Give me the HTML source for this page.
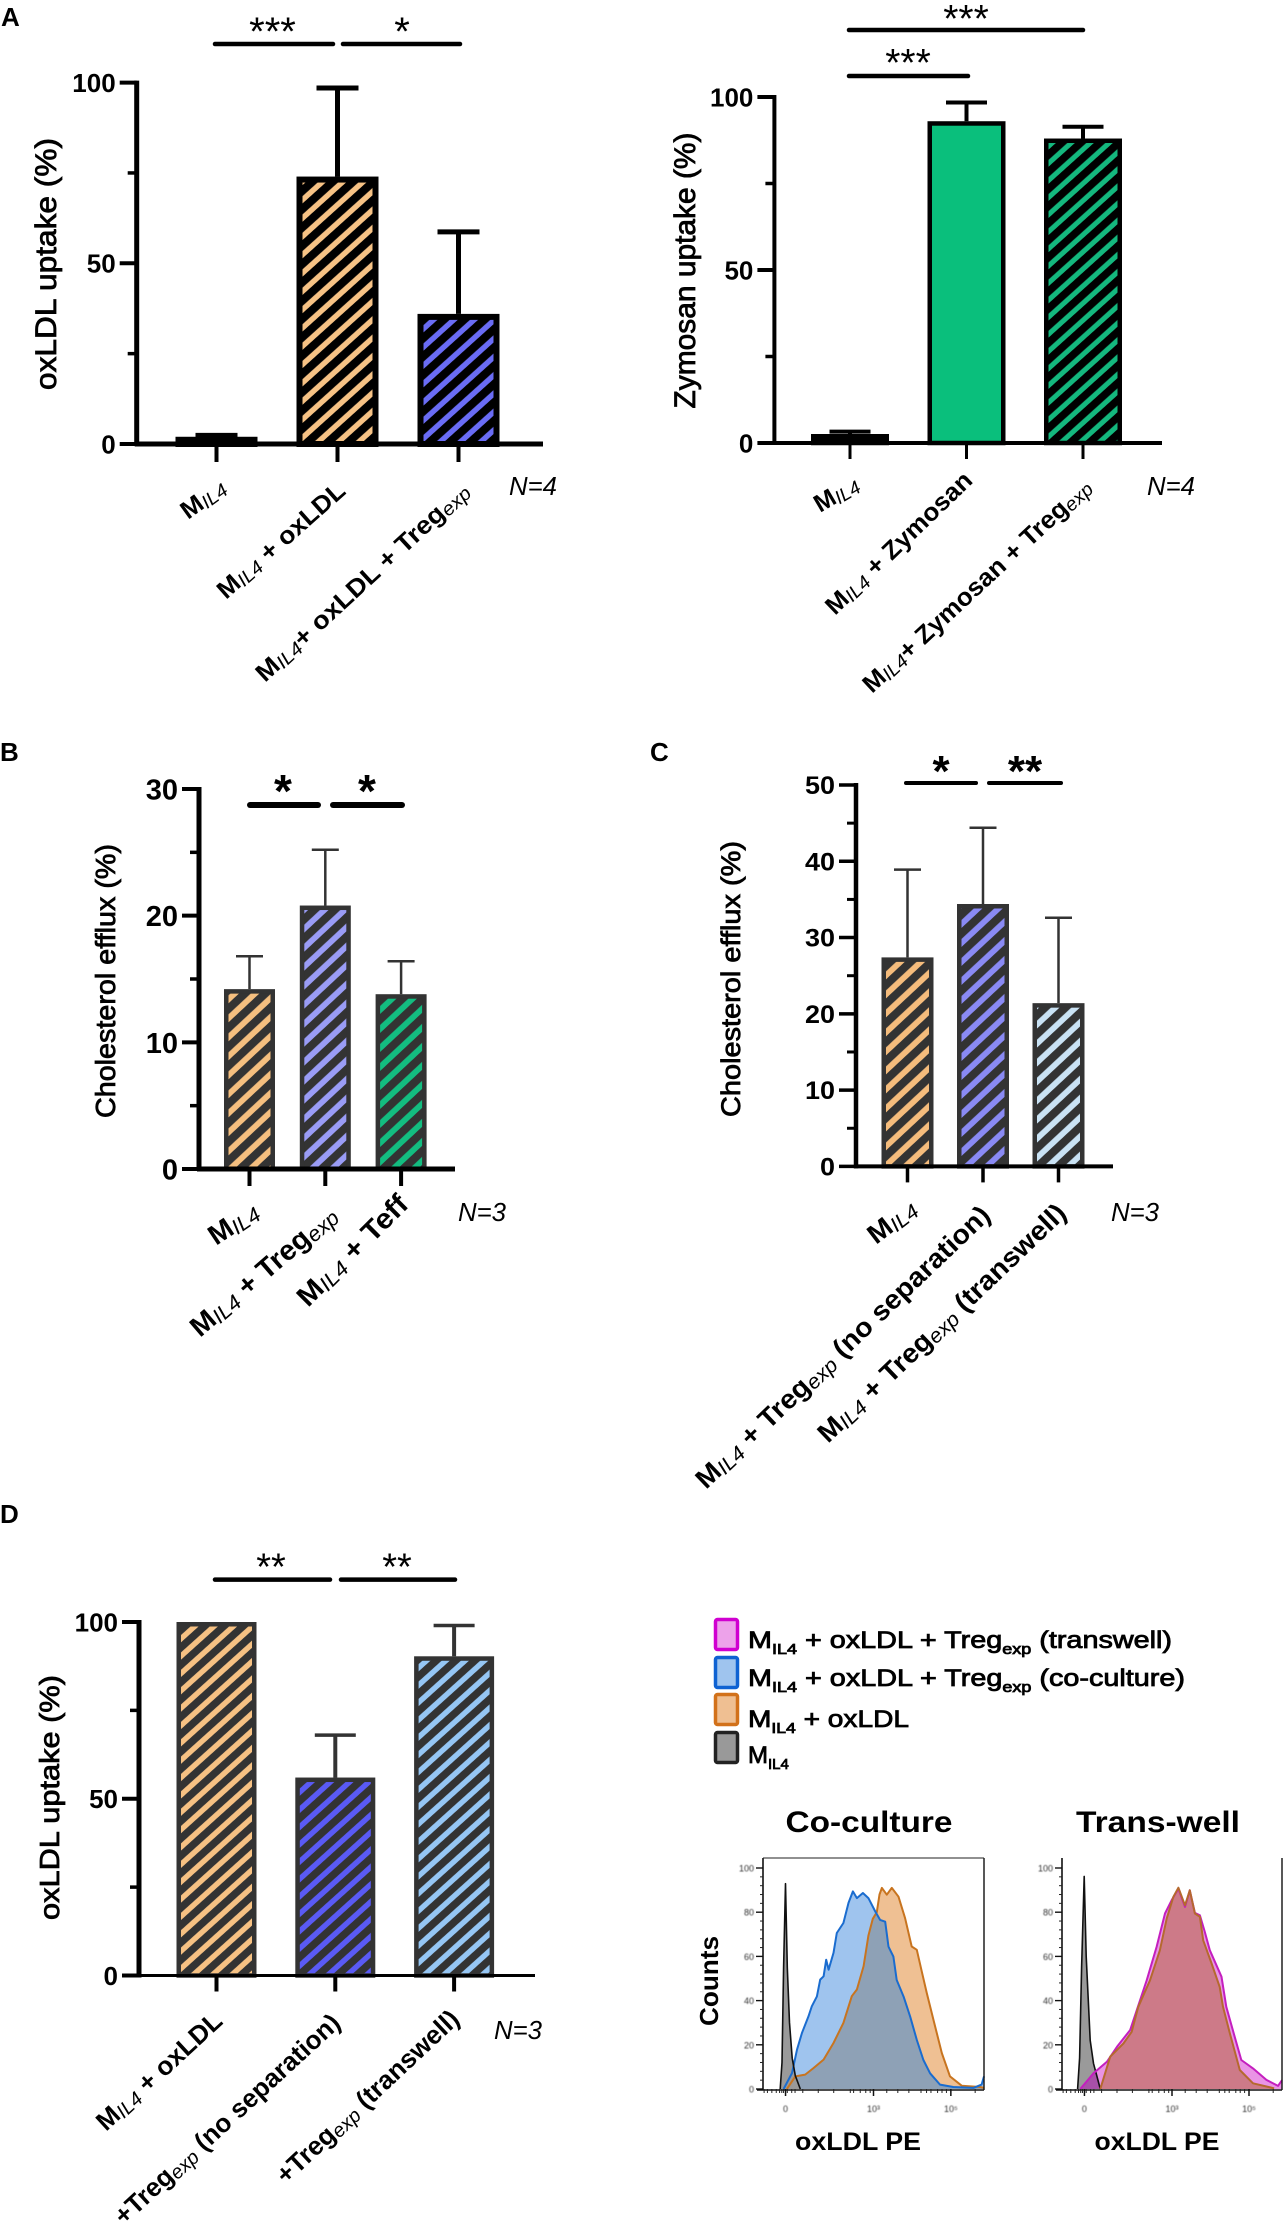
<!DOCTYPE html>
<html lang="en">
<head>
<meta charset="utf-8">
<title>oxLDL and zymosan uptake and cholesterol efflux</title>
<style>
html,body{margin:0;padding:0;background:#fff;}
body{width:1283px;height:2226px;overflow:hidden;}
svg{display:block;font-family:"Liberation Sans",Arial,sans-serif;}
</style>
</head>
<body>
<svg id="fig" xmlns="http://www.w3.org/2000/svg" width="1283" height="2226" viewBox="0 0 1283 2226">
  <defs>
    <filter id="soft" x="-10%" y="-10%" width="120%" height="120%"><feGaussianBlur stdDeviation="0.45"/></filter>
  </defs>
  <rect x="0" y="0" width="1283" height="2226" fill="#fff"/>
  <text x="1" y="26" font-size="26" font-weight="700">A</text>
  <text x="0" y="761" font-size="26" font-weight="700">B</text>
  <text x="650" y="761" font-size="26" font-weight="700">C</text>
  <text x="0" y="1523" font-size="26" font-weight="700">D</text>

  <g>
    <rect x="715.5" y="1619.5" width="22" height="30" rx="2" fill="#eda2ea" stroke="#d000d0" stroke-width="3.5"/>
    <rect x="715.5" y="1657.5" width="22" height="30" rx="2" fill="#9fc4ee" stroke="#0f62d2" stroke-width="3.5"/>
    <rect x="715.5" y="1694.5" width="22" height="30" rx="2" fill="#efbf92" stroke="#d2711a" stroke-width="3.5"/>
    <rect x="715.5" y="1732.5" width="22" height="30" rx="2" fill="#999" stroke="#222" stroke-width="3.5"/>
    <text x="748" y="1648" font-size="24" stroke="#000" stroke-width="0.8" textLength="424" lengthAdjust="spacingAndGlyphs">M<tspan font-size="15" dy="6">IL4</tspan><tspan dy="-6"> + oxLDL + Treg</tspan><tspan font-size="15" dy="6">exp</tspan><tspan dy="-6">  (transwell)</tspan></text>
    <text x="748" y="1686" font-size="24" stroke="#000" stroke-width="0.8" textLength="437" lengthAdjust="spacingAndGlyphs">M<tspan font-size="15" dy="6">IL4</tspan><tspan dy="-6"> + oxLDL + Treg</tspan><tspan font-size="15" dy="6">exp</tspan><tspan dy="-6">  (co-culture)</tspan></text>
    <text x="748" y="1727" font-size="24" stroke="#000" stroke-width="0.8" textLength="161" lengthAdjust="spacingAndGlyphs">M<tspan font-size="15" dy="6">IL4</tspan><tspan dy="-6"> + oxLDL</tspan></text>
    <text x="748" y="1763" font-size="24" stroke="#000" stroke-width="0.8">M<tspan font-size="15" dy="6">IL4</tspan></text>
  </g>
</svg>

<script>
/* ---------- Panel A, oxLDL uptake ---------- */
const oxCategories = ["M_IL4", "M_IL4 + oxLDL", "M_IL4+ oxLDL + Treg^exp"];
const oxValues = [2, 74, 36];
const oxErrorTops = [2.4, 98.5, 58.7];
const oxTicks = [0, 50, 100];
const oxMinorTicks = [25, 75];
const oxSig = [["***", 0, 1], ["*", 1, 2]];

/* ---------- Panel A, zymosan uptake ---------- */
const zyCategories = ["M_IL4", "M_IL4 + Zymosan", "M_IL4+ Zymosan + Treg^exp"];
const zyValues = [2.6, 93, 88];
const zyErrorTops = [3.3, 98.4, 91.4];
const zyTicks = [0, 50, 100];
const zyMinorTicks = [25, 75];
const zySig = [["***", 0, 2], ["***", 0, 1]];

/* ---------- Panel B, cholesterol efflux ---------- */
const cbCategories = ["M_IL4", "M_IL4 + Treg^exp", "M_IL4 + Teff"];
const cbValues = [14.2, 20.8, 13.8];
const cbErrorTops = [16.8, 25.2, 16.4];
const cbTicks = [0, 10, 20, 30];
const cbMinorTicks = [5, 15, 25];
const cbSig = [["*", 0, 1], ["*", 1, 2]];

/* ---------- Panel C, cholesterol efflux ---------- */
const ccCategories = ["M_IL4", "M_IL4 + Treg^exp (no separation)", "M_IL4 + Treg^exp (transwell)"];
const ccValues = [27.4, 34.4, 21.4];
const ccErrorTops = [38.9, 44.4, 32.6];
const ccTicks = [0, 10, 20, 30, 40, 50];
const ccMinorTicks = [5, 15, 25, 35, 45];
const ccSig = [["*", 0, 1], ["**", 1, 2]];

/* ---------- Panel D, oxLDL uptake ---------- */
const odCategories = ["M_IL4 + oxLDL", "+Treg^exp (no separation)", "+Treg^exp (transwell)"];
const odValues = [100, 56, 90.3];
const odErrorTops = [100, 68, 99];
const odTicks = [0, 50, 100];
const odMinorTicks = [25, 75];
const odSig = [["**", 0, 1], ["**", 1, 2]];

/* ---------- Flow cytometry, co-culture ---------- */
const coBlueChannel = [9.3,13.1,15.4,17.6,20.6,22.1,24.4,25.9,27.4,28.6,29.7,31.9,33.4,36.4,38.7,40.7,42.5,45.2,47.7,50.8,53,55.3,56.8,59,60.5,63.6,66.6,69.6,72.6,75.6,80.1,86.1,95.2,98.9,100];
const coBlueCounts = [0,7.2,17.8,25.3,32.9,37.4,41.9,49.5,51,58.5,54,61.6,70.6,75.1,84.2,89.4,86.4,88.7,86.4,80.3,76.5,75.7,64.4,59.9,49.3,41.8,32.7,22.2,13.1,7.1,2,0.9,0.5,2,5.7];
const coOrangeChannel = [10.8,14.6,19.1,22.9,27.4,31.9,36.4,40.2,42.5,45.5,47.7,49.7,51.5,52.7,53.8,56,58.3,61.3,64.3,67.3,69.6,71.8,74.1,77.1,80.9,84.6,89.9,98.2,100];
const coOrangeCounts = [0,5.7,6.5,9.5,13.3,20.8,29.9,42,45,55.6,69.4,77,80,88,91,87.9,91,87,77.3,64.5,63,53.3,43.4,31.4,16.3,5.7,1.5,0.9,0.5];
const coGreyChannel = [7.8,8.6,9.3,10.2,11,12,13.2,14.6,16.9];
const coGreyCounts = [0,12,55,92.9,55,30,14,6,0];

/* ---------- Flow cytometry, trans-well ---------- */
const trMagentaChannel = [8.3,14.3,20.4,25,31,34,38.5,43,46.8,49.8,52.9,55.9,58.1,60.4,62.7,64.9,67.2,72.5,74.7,78.5,81.5,86.8,92.9,98.2,100];
const trMagentaCounts = [0,7.1,12.3,19.1,26.7,35.7,49.2,64.3,79.4,85.4,90.7,82.4,89.9,79.7,78.6,71.1,62.8,50.8,37.2,23.6,13.1,9.3,4.1,1.4,4];
const trOrangeChannel = [17.4,21.9,27.9,31.7,34.7,40,44.5,47.6,50.6,52.9,55.9,58.1,60.4,62.7,64.2,68,71.7,73.2,76.3,80.8,86.8,96.4];
const trOrangeCounts = [0,14.6,20.6,25.9,37.2,49.2,62.8,77.1,86.9,91.1,83.1,89.9,79.4,77.9,67.3,56.8,46.2,37.2,25.1,8.6,2.6,0.3];
const trGreyChannel = [7.1,8,8.9,10.1,11,12.8,14.3,17.4];
const trGreyCounts = [0,14,55,96.2,60,22,11.6,0];

const flowCountTicks = [0, 20, 40, 60, 80, 100];
const flowMinorCountTicks = [4,8,12,16,24,28,32,36,44,48,52,56,64,68,72,76,84,88,92,96];
const flowChannelTicks = [10.2, 50, 85];
const flowChannelTickLabels = ["0", "10\u00B3", "10\u2075"];
const flowMinorChannelTicks = [0.5,2,4,6,7.5,8.5,9.3,11,13,14.5,18,25,32,39.5,41,44,46.5,48.5,56,61,66,71.5,74,76,79,81,83,96];

const NS = "http://www.w3.org/2000/svg";
const root = document.getElementById("fig");

function node(parent, tag, attrs) {
  const el = document.createElementNS(NS, tag);
  for (const k in attrs) el.setAttribute(k, attrs[k]);
  parent.appendChild(el);
  return el;
}

/* Build a rotated label out of "M_IL4 + x + Treg^exp" markers */
function fillLabel(textEl, label, fs) {
  const parts = label.split(/(_IL4|\^exp)/);
  let lowered = false;
  parts.forEach(function (p) {
    if (!p) return;
    const t = document.createElementNS(NS, "tspan");
    if (p === "_IL4" || p === "^exp") {
      t.textContent = p.slice(1);
      t.setAttribute("font-size", fs * 0.76);
      t.setAttribute("font-weight", "400");
      t.setAttribute("font-style", "italic");
      t.setAttribute("dy", fs * 0.1);
      lowered = true;
    } else {
      t.textContent = p;
      t.setAttribute("font-weight", "700");
      if (lowered) t.setAttribute("dy", -fs * 0.1);
      lowered = false;
    }
    textEl.appendChild(t);
  });
}

function drawBarChart(o) {
  const g = node(root, "g", {});
  
  

  const y = function (v) { return o.y0 - (v / o.max) * (o.y0 - o.yMax); };
  const x = function (i) { return o.xFirst + i * o.xStep; };

  /* hatch patterns */
  const defs = node(g, "defs", {});
  o.fills.forEach(function (f, i) {
    const id = o.name + "-hatch-" + i;
    const p = node(defs, "pattern", { id: id, width: o.hatch, height: o.hatch, patternUnits: "userSpaceOnUse", patternTransform: "rotate(" + o.hatchAngle + ")" });
    node(p, "rect", { x: 0, y: 0, width: o.hatch, height: o.hatch, fill: f });
    node(p, "rect", { x: 0, y: 0, width: o.hatch * o.hatchDark, height: o.hatch, fill: o.ink });
  });

  /* bars and error bars */
  o.values.forEach(function (v, i) {
    const cx = x(i);
    const sw = o.barStroke;
    const top = y(v);
    const solid = o.solid && o.solid[i];
    if (o.errorTops[i] > v) {
      const err = node(g, "line", { x1: cx, x2: cx, y1: top, y2: y(o.errorTops[i]), stroke: o.ink, "stroke-width": o.errStroke });
      
      
      const cap = node(g, "line", { x1: cx - o.capHalf, x2: cx + o.capHalf, y1: y(o.errorTops[i]), y2: y(o.errorTops[i]), stroke: o.ink, "stroke-width": o.capStroke });
      
      
    }
    const bar = node(g, "rect", {
      x: cx - o.barWidth / 2 + sw / 2,
      y: top + sw / 2,
      width: o.barWidth - sw,
      height: Math.max(0, o.y0 - top - sw / 2),
      fill: solid ? o.fills[i] : "url(#" + o.name + "-hatch-" + i + ")",
      stroke: o.ink,
      "stroke-width": sw
    });
    
    
    const tick = node(g, "line", { x1: cx, x2: cx, y1: o.y0, y2: o.y0 + o.xTickLen, stroke: "#000", "stroke-width": o.axisStroke - 1 });
    
    
  });

  /* axes */
  const yAxis = node(g, "line", { x1: o.xAxis, x2: o.xAxis, y1: o.yMax - 2, y2: o.y0 + 2, stroke: "#000", "stroke-width": o.axisStroke });
  
  
  const xAxis = node(g, "line", { x1: o.xAxis - 2, x2: o.xEnd, y1: o.y0, y2: o.y0, stroke: "#000", "stroke-width": o.xAxisStroke });
  
  

  o.ticks.forEach(function (t) {
    const l = node(g, "line", { x1: o.xAxis - 17, x2: o.xAxis, y1: y(t), y2: y(t), stroke: "#000", "stroke-width": o.tickStroke });
    
    
    const attrs = { x: o.xAxis - 21, y: y(t) + o.tickFont * 0.36, "font-size": o.tickFont, "font-weight": 700, "text-anchor": "end" };
    if (o.tickDigitWidth) { attrs.textLength = String(t).length * o.tickDigitWidth; attrs.lengthAdjust = "spacingAndGlyphs"; }
    const lab = node(g, "text", attrs);
    lab.textContent = t;
    
    
  });
  o.minor.forEach(function (t) {
    const l = node(g, "line", { x1: o.xAxis - 9, x2: o.xAxis, y1: y(t), y2: y(t), stroke: "#000", "stroke-width": o.tickStroke - 0.5 });
    
    
  });

  /* axis title */
  const title = node(g, "text", { transform: "translate(" + o.titleX + "," + o.titleBottom + ") rotate(-90)", "font-size": o.titleFont, stroke: "#000", "stroke-width": 0.8, textLength: o.titleLen, lengthAdjust: "spacingAndGlyphs" });
  title.textContent = o.title;
  
  

  /* rotated category labels */
  o.categories.forEach(function (c, i) {
    const f = o.labelFit[i];
    const dx = f[2] - f[0], dy = f[3] - f[1];
    const ang = Math.atan2(dy, dx) * 180 / Math.PI;
    const t = node(g, "text", { transform: "translate(" + f[0] + "," + f[1] + ") rotate(" + ang + ")", "font-size": o.labelFont, textLength: Math.sqrt(dx * dx + dy * dy), lengthAdjust: "spacingAndGlyphs" });
    fillLabel(t, c, o.labelFont);
    
    
  });

  /* significance brackets */
  o.sig.forEach(function (s, i) {
    const f = o.sigFit[i];
    const b = node(g, "line", { x1: f[0], x2: f[1], y1: f[2], y2: f[2], stroke: "#000", "stroke-width": o.sigStroke, "stroke-linecap": "round" });
    
    
    const st = node(g, "text", { x: f[3], y: f[4] + o.starFont * 0.57, "font-size": o.starFont, "font-weight": o.starWeight, "text-anchor": "middle" });
    st.textContent = s[0];
    
    
  });

  /* sample size */
  const n = node(g, "text", { x: o.nX, y: o.nY + 9, "font-size": o.nFont, "font-style": "italic", "text-anchor": "middle", textLength: o.nLen, lengthAdjust: "spacingAndGlyphs" });
  n.textContent = o.nText;
  
  
}

drawBarChart({
  name: "oxldl-uptake-chart", categories: oxCategories, values: oxValues, errorTops: oxErrorTops,
  ticks: oxTicks, minor: oxMinorTicks, sig: oxSig, max: 100, y0: 444, yMax: 82.6, xAxis: 136.7, xEnd: 543,
  xFirst: 216.5, xStep: 121, barWidth: 82, barStroke: 6, errStroke: 5, capStroke: 5, capHalf: 21, xTickLen: 18,
  axisStroke: 5, xAxisStroke: 5, tickStroke: 4, tickFont: 26, ink: "#000",
  fills: ["#000", "#f6c285", "#6a6cf5"], hatch: 13.6, hatchAngle: 48, hatchDark: 0.6,
  title: "oxLDL uptake (%)", titleX: 56, titleBottom: 390, titleLen: 252, titleFont: 30,
  labelFont: 25, labelFit: [[188, 520, 228, 491], [226, 600, 347, 493], [265, 683, 471, 493]],
  sigFit: [[215, 333, 44, 272.5, 22], [343, 460, 44, 402, 22]], sigStroke: 4.5, starFont: 40, starWeight: 400,
  nText: "N=4", nX: 533, nY: 486, nFont: 26, nLen: 48
});

drawBarChart({
  name: "zymosan-uptake-chart", categories: zyCategories, values: zyValues, errorTops: zyErrorTops,
  ticks: zyTicks, minor: zyMinorTicks, sig: zySig, max: 100, y0: 443, yMax: 97, xAxis: 774.4, xEnd: 1162,
  xFirst: 850, xStep: 116.5, barWidth: 78, barStroke: 4.5, errStroke: 4, capStroke: 4, capHalf: 20.5, xTickLen: 16,
  axisStroke: 4, xAxisStroke: 4, tickStroke: 4, tickFont: 26, ink: "#000", solid: [false, true, false],
  fills: ["#000", "#0abf7c", "#14b87e"], hatch: 12.7, hatchAngle: 48, hatchDark: 0.6,
  title: "Zymosan uptake (%)", titleX: 695, titleBottom: 408.5, titleLen: 276, titleFont: 30,
  labelFont: 25, labelFit: [[820, 513, 861, 489], [835, 616, 974, 482], [872, 694, 1093, 489]],
  sigFit: [[849, 1083, 30, 966, 10], [849, 968, 76, 908, 54]], sigStroke: 4.5, starFont: 39, starWeight: 400,
  nText: "N=4", nX: 1171, nY: 486, nFont: 26, nLen: 48
});

drawBarChart({
  name: "cholesterol-efflux-teff-chart", categories: cbCategories, values: cbValues, errorTops: cbErrorTops,
  ticks: cbTicks, minor: cbMinorTicks, sig: cbSig, max: 30, y0: 1169, yMax: 789, xAxis: 199, xEnd: 455,
  xFirst: 249.5, xStep: 75.8, barWidth: 51, barStroke: 4.5, errStroke: 2.5, capStroke: 2.5, capHalf: 13.5, xTickLen: 17,
  axisStroke: 5, xAxisStroke: 5, tickStroke: 4, tickFont: 29, ink: "#333",
  fills: ["#f5bf7f", "#9a9cf6", "#13bd80"], hatch: 13.9, hatchAngle: 47, hatchDark: 0.58,
  title: "Cholesterol efflux (%)", titleX: 115, titleBottom: 1118, titleLen: 274, titleFont: 28,
  labelFont: 28, labelFit: [[216, 1246, 261, 1216], [200, 1338, 339, 1218], [308, 1308, 410, 1206]],
  sigFit: [[250, 318, 805, 283, 781], [333, 402, 805, 367, 781]], sigStroke: 6, starFont: 46, starWeight: 700,
  nText: "N=3", nX: 482, nY: 1212, nFont: 26, nLen: 48
});

drawBarChart({
  name: "cholesterol-efflux-transwell-chart", categories: ccCategories, values: ccValues, errorTops: ccErrorTops,
  ticks: ccTicks, minor: ccMinorTicks, sig: ccSig, max: 50, y0: 1166.4, yMax: 785, xAxis: 856, xEnd: 1113,
  xFirst: 907.5, xStep: 75.5, barWidth: 52, barStroke: 4.5, errStroke: 2.5, capStroke: 2.5, capHalf: 13.5, xTickLen: 16,
  axisStroke: 4.5, xAxisStroke: 4, tickStroke: 3.5, tickFont: 25, tickDigitWidth: 15, ink: "#333",
  fills: ["#f5bc7c", "#8a8af4", "#c9e2f4"], hatch: 13.9, hatchAngle: 47, hatchDark: 0.58,
  title: "Cholesterol efflux (%)", titleX: 740, titleBottom: 1117, titleLen: 276, titleFont: 27,
  labelFont: 27, labelFit: [[876, 1245, 919, 1212], [706, 1490, 992, 1217], [828, 1444, 1068, 1215]],
  sigFit: [[906, 976, 783, 941, 761], [989, 1061, 783, 1025, 761]], sigStroke: 4, starFont: 44, starWeight: 700,
  nText: "N=3", nX: 1135, nY: 1212, nFont: 26, nLen: 48
});

drawBarChart({
  name: "oxldl-uptake-transwell-chart", categories: odCategories, values: odValues, errorTops: odErrorTops,
  ticks: odTicks, minor: odMinorTicks, sig: odSig, max: 100, y0: 1975.5, yMax: 1622, xAxis: 139, xEnd: 535,
  xFirst: 216.5, xStep: 118.8, barWidth: 80, barStroke: 4.5, errStroke: 4, capStroke: 3.5, capHalf: 20.5, xTickLen: 16,
  axisStroke: 5, xAxisStroke: 3, tickStroke: 4, tickFont: 26, ink: "#333",
  fills: ["#f6c183", "#5a5af5", "#95c6f4"], hatch: 12.9, hatchAngle: 48, hatchDark: 0.58,
  title: "oxLDL uptake (%)", titleX: 59, titleBottom: 1920, titleLen: 245, titleFont: 28,
  labelFont: 26, labelFit: [[106, 2132, 224, 2023], [124, 2226, 342, 2025], [286, 2185, 461, 2021]],
  sigFit: [[215, 330, 1579.6, 271, 1558], [341, 455, 1579.6, 397, 1558]], sigStroke: 4.5, starFont: 38, starWeight: 400,
  nText: "N=3", nX: 518, nY: 2030, nFont: 26, nLen: 48
});

/* ---------- flow histograms ---------- */
function drawFlow(o) {
  const g = node(root, "g", {});
  
  
  const x = function (u) { return o.x0 + (u / 100) * (o.x1 - o.x0); };
  const y = function (c) { return o.yBase - (c / 100) * (o.yBase - o.y100); };
  const pathOf = function (xs, ys, close) {
    let d = "";
    xs.forEach(function (v, i) { d += (i ? "L" : "M") + x(v).toFixed(1) + " " + y(ys[i]).toFixed(1); });
    if (close) d += "L" + x(xs[xs.length - 1]).toFixed(1) + " " + y(0).toFixed(1) + "L" + x(xs[0]).toFixed(1) + " " + y(0).toFixed(1) + "Z";
    return d;
  };
  const defs = node(g, "defs", {});

  o.series.forEach(function (s, i) {
    const f = node(g, "path", { d: pathOf(s.xs, s.ys, true), fill: s.fill });
    
    
    if (s.overlapWith !== undefined) {
      const other = o.series[s.overlapWith];
      const clipId = o.name + "-clip-" + i;
      const cp = node(defs, "clipPath", { id: clipId });
      node(cp, "path", { d: pathOf(other.xs, other.ys, true) });
      const ov = node(g, "path", { d: pathOf(s.xs, s.ys, true), fill: s.overlapFill, "clip-path": "url(#" + clipId + ")" });
      
      
    }
  });
  o.series.forEach(function (s) {
    const l = node(g, "path", { d: pathOf(s.xs, s.ys, false), fill: "none", stroke: s.stroke, "stroke-width": s.width || 2, "stroke-linejoin": "round" });
    
    
  });

  /* plot frame */
  const left = node(g, "line", { x1: o.x0, x2: o.x0, y1: o.yTop, y2: o.yBase + 1, stroke: "#111", "stroke-width": 1.6 });
  
  
  const bottom = node(g, "line", { x1: o.x0 - 6, x2: o.x1, y1: o.yBase + 1, y2: o.yBase + 1, stroke: "#111", "stroke-width": 1.6 });
  
  
  const right = node(g, "line", { x1: o.x1, x2: o.x1, y1: o.yTop, y2: o.yBase + 1, stroke: "#111", "stroke-width": 1.4 });
  
  
  if (o.topLine) {
    const top = node(g, "line", { x1: o.x0, x2: o.x1, y1: o.yTop, y2: o.yTop, stroke: "#222", "stroke-width": 1 });
    
    
  }

  flowCountTicks.forEach(function (c) {
    const t = node(g, "line", { x1: o.x0 - 7, x2: o.x0, y1: y(c), y2: y(c), stroke: "#111", "stroke-width": 1.4 });
    
    
    const lab = node(g, "text", { x: o.x0 - 9, y: y(c) + 3.5, "font-size": 9, "text-anchor": "end", fill: "#333", filter: "url(#soft)" });
    lab.textContent = c;
    
    
  });
  flowMinorCountTicks.forEach(function (c) {
    const t = node(g, "line", { x1: o.x0 - 3, x2: o.x0, y1: y(c), y2: y(c), stroke: "#222", "stroke-width": 1 });
    
    
  });
  flowChannelTicks.forEach(function (u, i) {
    const t = node(g, "line", { x1: x(u), x2: x(u), y1: o.yBase, y2: o.yBase + 7, stroke: "#111", "stroke-width": 1.5 });
    
    
    const lab = node(g, "text", { x: x(u), y: o.yBase + 23, "font-size": 9, "text-anchor": "middle", fill: "#333", filter: "url(#soft)" });
    lab.textContent = flowChannelTickLabels[i];
    
    
  });
  flowMinorChannelTicks.forEach(function (u) {
    const t = node(g, "line", { x1: x(u), x2: x(u), y1: o.yBase, y2: o.yBase + 4, stroke: "#222", "stroke-width": 1 });
    
    
  });

  const title = node(g, "text", { x: o.titleX, y: 1832, "font-size": 30, "font-weight": 700, "text-anchor": "middle", textLength: o.titleLen, lengthAdjust: "spacingAndGlyphs" });
  title.textContent = o.title;
  
  
  const xt = node(g, "text", { x: o.xTitleX, y: 2150, "font-size": 25, "font-weight": 700, "text-anchor": "middle", textLength: o.xTitleLen, lengthAdjust: "spacingAndGlyphs" });
  xt.textContent = "oxLDL PE";
  
  
}

drawFlow({
  name: "flow-coculture", x0: 763, x1: 984, yBase: 2089, y100: 1868, yTop: 1858, topLine: true,
  title: "Co-culture", titleX: 869, titleLen: 167, xTitleX: 858, xTitleLen: 126,
  series: [
    { key: "oxldl", xs: coOrangeChannel, ys: coOrangeCounts, fill: "#efc093", stroke: "#c8741f", overlapWith: undefined },
    { key: "coculture", xs: coBlueChannel, ys: coBlueCounts, fill: "#9fc4ee", stroke: "#1a6ccf" },
    { key: "oxldl-inner", xs: coOrangeChannel, ys: coOrangeCounts, fill: "none", stroke: "none", overlapWith: 1, overlapFill: "#8ea1b6", width: 0 },
    { key: "mil4", xs: coGreyChannel, ys: coGreyCounts, fill: "#9a9a9a", stroke: "#111", width: 1.6 }
  ]
});

drawFlow({
  name: "flow-transwell", x0: 1062, x1: 1282, yBase: 2089, y100: 1868, yTop: 1858, topLine: false,
  title: "Trans-well", titleX: 1158, titleLen: 164, xTitleX: 1157, xTitleLen: 125,
  series: [
    { key: "mil4", xs: trGreyChannel, ys: trGreyCounts, fill: "#9a9a9a", stroke: "#111", width: 1.6 },
    { key: "transwell", xs: trMagentaChannel, ys: trMagentaCounts, fill: "#e994e5", stroke: "#c41fbf", overlapWith: 0, overlapFill: "#a850a8" },
    { key: "oxldl", xs: trOrangeChannel, ys: trOrangeCounts, fill: "#cd7a88", stroke: "#b5692e" }
  ]
});

const counts = document.createElementNS(NS, "text");
counts.setAttribute("transform", "translate(718,2026) rotate(-90)");
counts.setAttribute("font-size", "26");
counts.setAttribute("font-weight", "700");
counts.setAttribute("textLength", "90");
counts.setAttribute("lengthAdjust", "spacingAndGlyphs");
counts.textContent = "Counts";


root.appendChild(counts);
</script>
</body>
</html>
